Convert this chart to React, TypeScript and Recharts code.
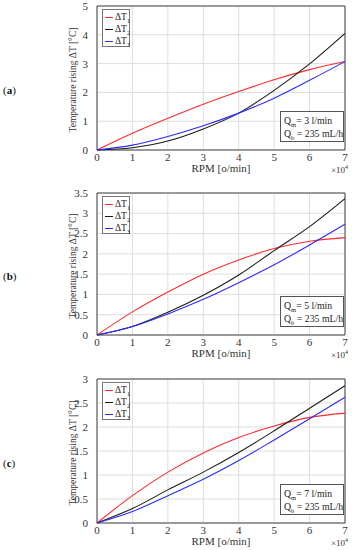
import React from 'react';
import {
  LineChart, Line, XAxis, YAxis, CartesianGrid, ReferenceArea, Label,
} from 'recharts';

// RPM in units of 10^4 o/min
const rpm = [0, 1, 2, 3, 4, 5, 6, 7];

// (a) Qm = 3 l/min
const a1 = [0, 0.58, 1.1, 1.59, 2.03, 2.44, 2.79, 3.07];
const a2 = [0, 0.08, 0.31, 0.73, 1.28, 2.07, 2.99, 4.05];
const a3 = [0, 0.17, 0.47, 0.84, 1.28, 1.8, 2.42, 3.07];

// (b) Qm = 5 l/min
const b1 = [0, 0.57, 1.06, 1.5, 1.85, 2.13, 2.31, 2.4];
const b2 = [0, 0.21, 0.56, 0.98, 1.48, 2.08, 2.67, 3.36];
const b3 = [0, 0.21, 0.52, 0.88, 1.29, 1.73, 2.22, 2.73];

// (c) Qm = 7 l/min
const c1 = [0, 0.57, 1.06, 1.46, 1.78, 2.02, 2.2, 2.29];
const c2 = [0, 0.3, 0.69, 1.06, 1.47, 1.92, 2.39, 2.86];
const c3 = [0, 0.24, 0.57, 0.91, 1.3, 1.73, 2.17, 2.62];

const xTicks = [0, 1, 2, 3, 4, 5, 6, 7];
const yTicksA = [0, 1, 2, 3, 4, 5];
const yTicksB = [0, 0.5, 1, 1.5, 2, 2.5, 3, 3.5];
const yTicksC = [0, 0.5, 1, 1.5, 2, 2.5, 3];

const seriesNames = ['1', '2', '3'];
const seriesColors = ['#ff2b2b', '#1a1a1a', '#2b2bff'];

const FONT = '"Liberation Serif", "Times New Roman", serif';
const PLOT_LEFT = 97;
const PLOT_RIGHT = 345;
const X_AXIS_H = 20;
const BOTTOM = 8;

interface PanelProps {
  letter: string;
  top: number;
  height: number;
  marginTop: number;
  s1: number[];
  s2: number[];
  s3: number[];
  yTicks: number[];
  qm: number;
}

function LegendBox({ top }: { top: number }) {
  return (
    <div style={{
      position: 'absolute', left: 102, top, width: 28, height: 38, boxSizing: 'border-box',
      border: '1px solid #777', background: '#fff',
      fontFamily: FONT, fontSize: 9.5, color: '#222',
    }}>
      {seriesNames.map((n, i) => (
        <div key={n} style={{ position: 'absolute', left: 2, top: 1 + i * 12, height: 12, whiteSpace: 'nowrap' }}>
          <span style={{ position: 'absolute', left: 0, top: 6, width: 8, height: 1, background: seriesColors[i] }} />
          <span style={{ position: 'absolute', left: 10, top: 0, lineHeight: '12px' }}>
            ΔT<sub style={{ fontSize: 6 }}>{n}</sub>
          </span>
        </div>
      ))}
    </div>
  );
}

function Panel({ letter, top, height, marginTop, s1, s2, s3, yTicks, qm }: PanelProps) {
  const data = rpm.map((r, i) => ({ rpm: r, '1': s1[i], '2': s2[i], '3': s3[i] }));
  const yMax = yTicks[yTicks.length - 1];
  const plotBottom = height - X_AXIS_H - BOTTOM;
  const plotMid = (marginTop + plotBottom) / 2;

  return (
    <div style={{ position: 'absolute', left: 0, top, width: 352, height }}>
      <LineChart width={352} height={height} data={data}
        margin={{ top: marginTop, right: 352 - PLOT_RIGHT, left: 0, bottom: BOTTOM }}>
        <CartesianGrid stroke="#dedede" vertical horizontal />
        <XAxis dataKey="rpm" type="number" domain={[0, 7]} ticks={xTicks} height={X_AXIS_H}
          axisLine={false} tickLine={false} tickSize={3} tickMargin={0}
          tick={{ fill: '#333', fontSize: 11, fontFamily: FONT }}>
          <Label content={() => (
            <text x={(PLOT_LEFT + PLOT_RIGHT) / 2} y={plotBottom + 22} textAnchor="middle"
              style={{ fill: '#333', fontSize: 11, fontFamily: FONT }}>
              RPM [o/min]
            </text>
          )} />
        </XAxis>
        <YAxis type="number" domain={[0, yMax]} ticks={yTicks} width={PLOT_LEFT}
          axisLine={false} tickLine={false} tickMargin={3} interval={0}
          tick={{ fill: '#333', fontSize: 11, fontFamily: FONT }}>
          <Label content={() => (
            <text x={76} y={plotMid + 2} transform={`rotate(-90 76 ${plotMid + 2})`} textAnchor="middle"
              style={{ fill: '#333', fontSize: 9.5, fontFamily: FONT }}>
              Temperature rising  ΔT [°C]
            </text>
          )} />
        </YAxis>
        <ReferenceArea x1={0} x2={7} y1={0} y2={yMax} fill="none" stroke="#444" strokeWidth={1} />
        {seriesNames.map((n, i) => (
          <Line key={n} dataKey={n} name={n} type="monotone" stroke={seriesColors[i]}
            strokeWidth={1.1} dot={false} isAnimationActive={false} />
        ))}
      </LineChart>

      <LegendBox top={marginTop + 3} />

      <div style={{
        position: 'absolute', left: 280, top: plotBottom - 39, width: 64, height: 31, boxSizing: 'border-box',
        border: '1px solid #555', background: '#fff', fontFamily: FONT, fontSize: 9.8, color: '#222',
        lineHeight: '13px', padding: '2px 0 0 3px', whiteSpace: 'nowrap',
      }}>
        <div>Q<sub style={{ fontSize: 6.5, lineHeight: 0 }}>m</sub>= {qm} l/min</div>
        <div>Q<sub style={{ fontSize: 6.5, lineHeight: 0 }}>b</sub> = 235 mL/h</div>
      </div>

      <div style={{
        position: 'absolute', left: 331, top: plotBottom + 15, fontFamily: FONT, fontSize: 9, color: '#333',
        lineHeight: '10px',
      }}>
        ×10<sup style={{ fontSize: 6, lineHeight: 0 }}>4</sup>
      </div>

      <div style={{
        position: 'absolute', left: 3, top: plotMid + 6, fontFamily: FONT, fontSize: 11, color: '#111',
      }}>
        (<b>{letter}</b>)
      </div>
    </div>
  );
}

export default function App() {
  return (
    <div style={{ position: 'absolute', left: 0, top: 0, width: 352, height: 550, background: '#fff' }}>
      <Panel letter="a" top={0} height={178} marginTop={6} s1={a1} s2={a2} s3={a3} yTicks={yTicksA} qm={3} />
      <Panel letter="b" top={180} height={183} marginTop={13} s1={b1} s2={b2} s3={b3} yTicks={yTicksB} qm={5} />
      <Panel letter="c" top={365} height={186} marginTop={14} s1={c1} s2={c2} s3={c3} yTicks={yTicksC} qm={7} />
    </div>
  );
}
